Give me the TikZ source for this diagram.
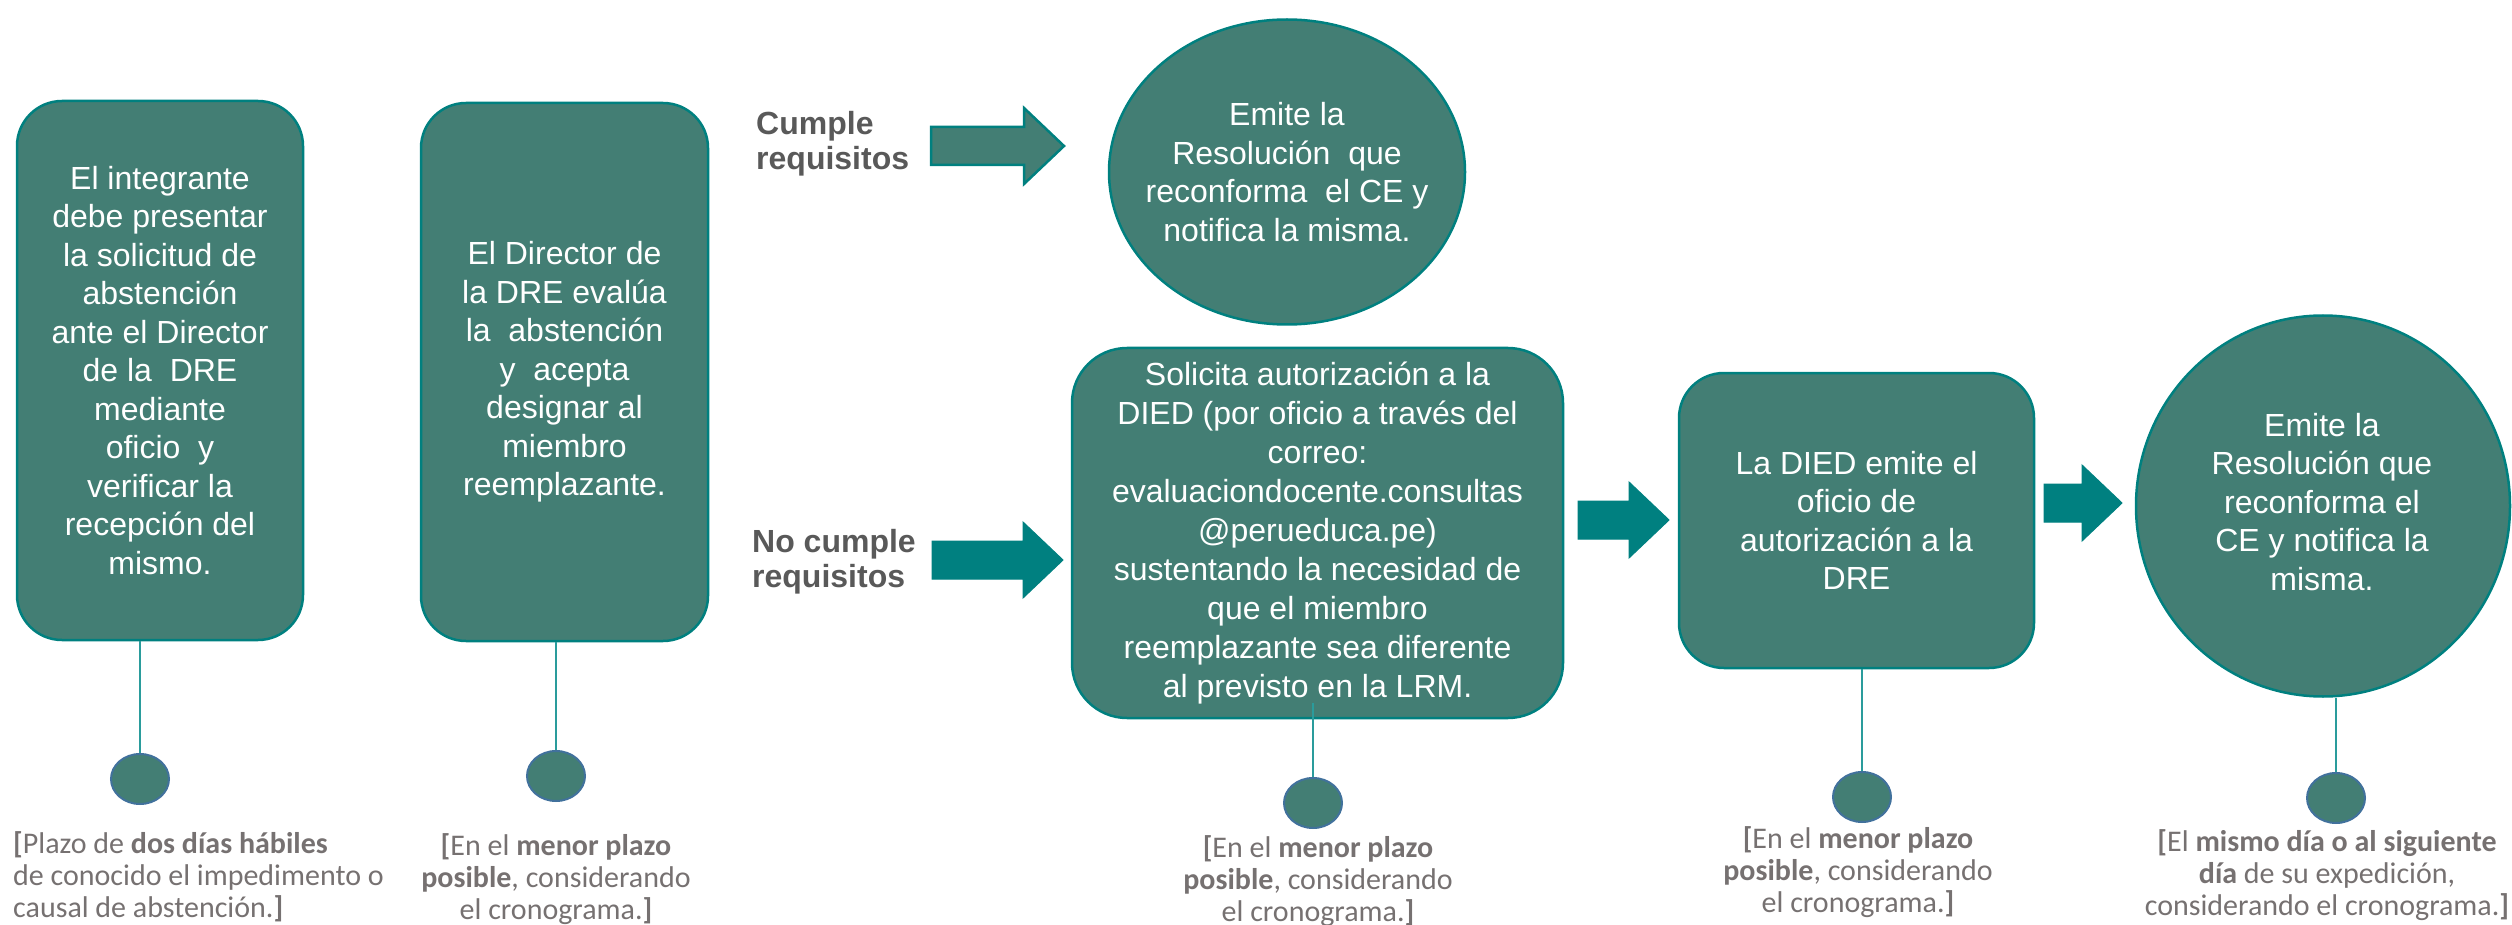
\documentclass[tikz,border=0pt]{standalone}
\usepackage{fontspec}
\setmainfont{Liberation Sans}
\newfontfamily\notafont{Carlito}
\usetikzlibrary{shapes.geometric,calc}

\definecolor{verdecaja}{HTML}{437E74}
\definecolor{bordecaja}{HTML}{00807F}
\definecolor{tealflecha}{HTML}{008080}
\definecolor{grisnota}{HTML}{767171}
\definecolor{grisreq}{HTML}{595959}
\definecolor{bordepunto}{HTML}{41719C}
\definecolor{linea}{HTML}{2A9C9C}

% flecha de bloque: cola #2, punta #3 (misma altura)
\newcommand{\flecha}[3][]{%
  \path[bloque,#1] let \p1=(#2), \p2=(#3) in
    (\x1,\y1+19pt) -- (\x2-40pt,\y1+19pt) -- (\x2-40pt,\y1+38pt) -- (\x2,\y1)
    -- (\x2-40pt,\y1-38pt) -- (\x2-40pt,\y1-19pt) -- (\x1,\y1-19pt) -- cycle;}

\tikzset{
  caja/.style={draw=bordecaja, line width=2.5pt, fill=verdecaja, rounded corners=45pt,
    text=white, align=center, font=\fontsize{32}{38.5}\selectfont, inner sep=0pt},
  elipse/.style={ellipse, draw=bordecaja, line width=2.5pt, fill=verdecaja, inner sep=0pt},
  texto/.style={text=white, align=center, font=\fontsize{32}{38.5}\selectfont, inner sep=0pt},
  punto/.style={ellipse, draw=bordepunto, line width=2pt, fill=verdecaja,
    minimum width=58pt, minimum height=50pt, inner sep=0pt},
  nota/.style={text=grisnota, align=center, font=\notafont\fontsize{30}{32}\selectfont, inner sep=0pt},
  req/.style={text=grisreq, align=left, anchor=west, font=\bfseries\fontsize{32}{35}\selectfont, inner sep=0pt},
  bloque/.style={fill=tealflecha, draw=tealflecha, line width=1pt, line join=miter},
  hilo/.style={draw=linea, line width=1.5pt},
}

\begin{document}
\begin{tikzpicture}[x=1pt,y=-1pt]
	\useasboundingbox (0,0) rectangle (2512,925);
	% cajas
	\node[caja, minimum width=286, minimum height=539] (caja1) at (160,370.5)
	{El integrante\\ debe presentar\\ la solicitud de\\ abstención\\ ante el Director\\ de la\ \ DRE\\ mediante\\ oficio\ \ y\\ verificar la\\ recepción del\\ mismo.};
	\node[caja, minimum width=287, minimum height=538] (caja2) at (564.5,372)
	{El Director de\\ la DRE evalúa\\ la\ \ abstención\\ y\ \ acepta\\ designar al\\ miembro\\ reemplazante.};
	\node[elipse, minimum width=356, minimum height=305] (res1) at (1287,172) {};
	\node[texto] (res1txt) at (res1) {Emite la\\ Resolución\ \ que\\ reconforma\ \ el CE y\\ notifica la misma.};
	\node[caja, rounded corners=55pt, minimum width=491, minimum height=370, font=\fontsize{32}{39}\selectfont] (caja3) at (1317.5,533)
	{Solicita autorización a la\\ DIED (por oficio a través del\\ correo:\\ evaluaciondocente.consultas\\ @perueduca.pe)\\ sustentando la necesidad de\\ que el miembro\\ reemplazante sea diferente\\ al previsto en la LRM.};
	\node[caja, minimum width=355, minimum height=295] (caja4) at (1856.5,520.5)
	{La DIED emite el\\ oficio de\\ autorización a la\\ DRE};
	\node[elipse, minimum width=374, minimum height=381] (res2) at (2323,506) {};
	\node[texto] (res2txt) at (2322,502) {Emite la\\ Resolución que\\ reconforma el\\ CE y notifica la\\ misma.};
	% condiciones
	\node[req] (cumple) at (756,144) {Cumple\\ requisitos};
	\node[req] (nocumple) at (752,562) {No cumple\\ requisitos};
	% flechas
	\coordinate (f1a) at (931,146); \coordinate (f1b) at (1064,146);
	\coordinate (f2a) at (932,560); \coordinate (f2b) at (1063,560);
	\coordinate (f3a) at (1578,520); \coordinate (f3b) at (1669,520);
	\coordinate (f4a) at (2044,503); \coordinate (f4b) at (2122,503);
	\flecha[fill=verdecaja, draw=bordecaja, line width=2.5pt]{f1a}{f1b}
	\flecha{f2a}{f2b}
	\flecha{f3a}{f3b}
	\flecha{f4a}{f4b}
	% puntos y plazos
	\node[punto] (punto1) at (140,779) {};
	\node[punto] (punto2) at (556,776) {};
	\node[punto] (punto3) at (1313,803) {};
	\node[punto] (punto4) at (1862,797) {};
	\node[punto] (punto5) at (2336,798) {};
	\draw[hilo] (punto1 |- caja1.south) -- (punto1.north);
	\draw[hilo] (punto2 |- caja2.south) -- (punto2.north);
	\draw[hilo] ([yshift=16pt]punto3 |- caja3.south) -- (punto3.north);
	\draw[hilo] (punto4 |- caja4.south) -- (punto4.north);
	\draw[hilo] (punto5 |- res2.south) -- (punto5.north);
	\node[nota, align=left, anchor=west] (nota1) at (13,877)
	{\textbf{[}Plazo de \textbf{dos días hábiles}\\ de conocido el impedimento o\\ causal de abstención.\textbf{]}};
	\node[nota] (nota2) at (556,879)
	{\textbf{[}En el \textbf{menor plazo}\\ \textbf{posible}, considerando\\ el cronograma.\textbf{]}};
	\node[nota] (nota3) at (1318,881)
	{\textbf{[}En el \textbf{menor plazo}\\ \textbf{posible}, considerando\\ el cronograma.\textbf{]}};
	\node[nota] (nota4) at (1858,872)
	{\textbf{[}En el \textbf{menor plazo}\\ \textbf{posible}, considerando\\ el cronograma.\textbf{]}};
	\node[nota] (nota5) at (2327,875)
	{\textbf{[}El \textbf{mismo día o al siguiente}\\ \textbf{día} de su expedición,\\ considerando el cronograma.\textbf{]}};
\end{tikzpicture}
\end{document}
